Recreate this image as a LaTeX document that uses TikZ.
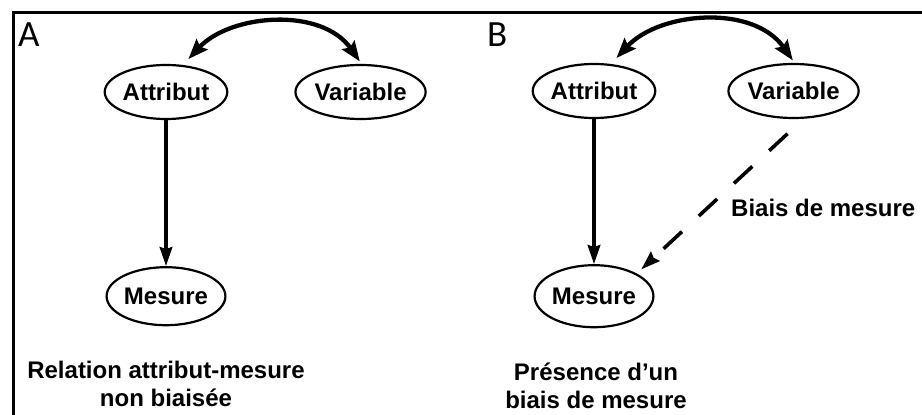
\documentclass[tikz,border=0pt]{standalone}
\usepackage{fontspec}
\setmainfont{Liberation Sans}
\newfontfamily\panelfont{Carlito}
\usetikzlibrary{shapes.geometric, arrows.meta, positioning}

\begin{document}
\begin{tikzpicture}[
    x=1pt, y=1pt,
    node distance=145pt and 66pt,
    var/.style={ellipse, draw, line width=2.2pt, inner sep=0pt, minimum height=54pt, font=\fontsize{24}{28}\selectfont\bfseries},
    arrow/.style={-{Stealth[length=19pt,width=12.5pt,inset=2pt]}, line width=3.6pt},
    dblarrow/.style={{Stealth[length=20pt,width=15pt,inset=3pt]}-{Stealth[length=20pt,width=15pt,inset=3pt]}, line width=4.3pt},
    dasharrow/.style={arrow, dash pattern=on 25pt off 23pt},
    caption/.style={font=\fontsize{24}{28}\selectfont\bfseries, align=center},
    panel/.style={font=\panelfont\fontsize{37}{40}\selectfont, anchor=base west, inner sep=0pt}
  ]
    \useasboundingbox (0,0) rectangle (922,415);

    % Frame (open on the right and at the bottom)
    \draw[line width=3pt] (13,0) |- (922,402);

    % Panel A
    \node[panel] (labA) at (18,368) {A};
    \node[var, minimum width=120pt] (attrA) at (166,323) {Attribut};
    \node[var, minimum width=129pt, right=66pt of attrA] (varA) {Variable};
    \node[var, minimum width=104pt, minimum height=58pt, below=146pt of attrA] (mesA) {Mesure};

    \draw[dblarrow, shorten <=8pt, shorten >=3pt] (attrA.58) to[out=47, in=125] (varA.88);
    \draw[arrow] (attrA) -- (mesA);

    \node[caption] (capA) at (166,31) {Relation attribut-mesure\\non biaisée};

    % Panel B
    \node[panel] (labB) at (487,368) {B};
    \node[var, minimum width=116pt] (attrB) at (594,324) {Attribut};
    \node[var, minimum width=125pt, right=71pt of attrB] (varB) {Variable};
    \node[var, minimum width=105pt, minimum height=62pt, below=145pt of attrB] (mesB) {Mesure};

    \draw[dblarrow, shorten <=8pt, shorten >=3pt] (attrB.58) to[out=47, in=125] (varB.88);
    \draw[arrow] (attrB) -- (mesB);
    \draw[dasharrow, shorten <=22pt, shorten >=6pt] (varB.290) -- (mesB.north east);

    \node[caption, anchor=west, inner sep=0pt] (bias) at (731,207) {Biais de mesure};
    \node[caption] (capB) at (596,29) {Présence d’un\\biais de mesure};
\end{tikzpicture}
\end{document}
